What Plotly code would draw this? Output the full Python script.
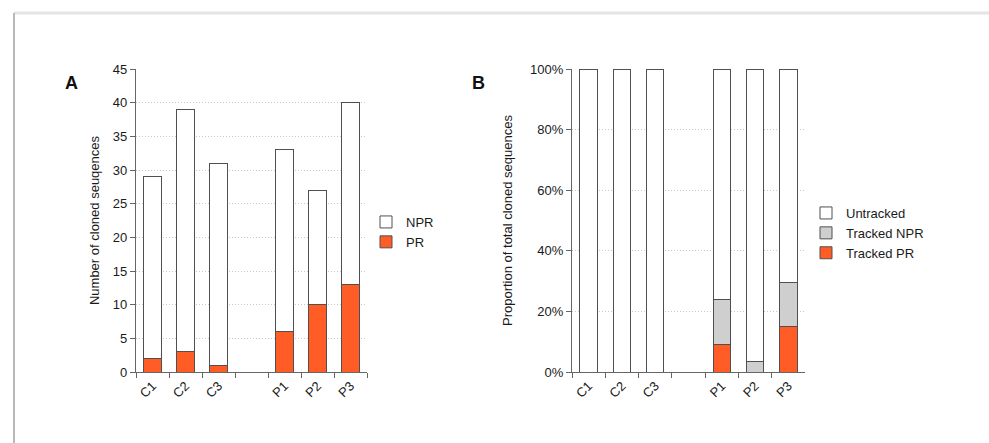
import plotly.graph_objects as go

# ---------------- data ----------------
categories = ["C1", "C2", "C3", " ", "P1", "P2", "P3"]

# Panel A: counts
pr_counts = [2, 3, 1, None, 6, 10, 13]
npr_counts = [27, 36, 30, None, 27, 17, 27]

# Panel B: proportions
tracked_pr = [0.0, 0.0, 0.0, None, 0.09, 0.0, 0.15]
tracked_npr = [0.0, 0.0, 0.0, None, 0.15, 0.036, 0.147]
untracked = [1.0, 1.0, 1.0, None, 0.76, 0.964, 0.703]

y_ticks_a = [0, 5, 10, 15, 20, 25, 30, 35, 40, 45]
y_ticks_b = [0, 0.2, 0.4, 0.6, 0.8, 1.0]

# ---------------- style ----------------
W, H = 989, 443
ORANGE = "#FF5C26"
GRAY_FILL = "#CFCFCF"
OUTLINE = "#505050"
AXIS = "#666666"
FONT = "Liberation Sans, Arial, sans-serif"
TXT = "#1a1a1a"

def px(x):
    return x / W

def py(y):
    return 1 - y / H

fig = go.Figure()

line = dict(color=OUTLINE, width=1)

# Panel A
fig.add_trace(go.Bar(x=categories, y=pr_counts, name="PR", marker=dict(color=ORANGE, line=line),
                     xaxis="x", yaxis="y", legend="legend"))
fig.add_trace(go.Bar(x=categories, y=npr_counts, name="NPR", marker=dict(color="white", line=line),
                     xaxis="x", yaxis="y", legend="legend"))

# Panel B
fig.add_trace(go.Bar(x=categories, y=tracked_pr, name="Tracked PR", marker=dict(color=ORANGE, line=line),
                     xaxis="x2", yaxis="y2", legend="legend2"))
fig.add_trace(go.Bar(x=categories, y=tracked_npr, name="Tracked NPR", marker=dict(color=GRAY_FILL, line=line),
                     xaxis="x2", yaxis="y2", legend="legend2"))
fig.add_trace(go.Bar(x=categories, y=untracked, name="Untracked", marker=dict(color="white", line=line),
                     xaxis="x2", yaxis="y2", legend="legend2"))

y_dom = [py(372), py(69)]

xaxis_common = dict(
    type="category", categoryorder="array", categoryarray=categories,
    tickson="boundaries", ticks="outside", ticklen=5, tickcolor=AXIS,
    showline=True, linecolor=AXIS, linewidth=1.3, tickangle=-45,
    tickfont=dict(size=13, color=TXT, family=FONT), showgrid=False,
    automargin=False, fixedrange=True,
)
yaxis_common = dict(
    ticks="outside", ticklen=5, tickcolor=AXIS, showline=True, linecolor=AXIS, linewidth=1.3,
    showgrid=True, gridcolor="#c9c9c9", griddash="1px,2px", gridwidth=1,
    tickfont=dict(size=13, color=TXT, family=FONT), zeroline=False, domain=y_dom,
    automargin=False, fixedrange=True,
)

legend_common = dict(
    xanchor="left", yanchor="top", traceorder="reversed",
    font=dict(size=13, family=FONT, color=TXT), itemwidth=30,
    bgcolor="rgba(0,0,0,0)", tracegroupgap=0,
)

fig.update_layout(
    width=W, height=H,
    margin=dict(l=0, r=0, t=0, b=0),
    paper_bgcolor="white", plot_bgcolor="white",
    barmode="stack", bargap=0.48,
    font=dict(family=FONT, color=TXT),
    xaxis=dict(xaxis_common, domain=[px(136), px(367)], anchor="y"),
    yaxis=dict(yaxis_common, range=[0, 45], tickvals=y_ticks_a, anchor="x",
               title=dict(text="Number of cloned seuqences", standoff=10,
                          font=dict(size=13, color=TXT, family=FONT))),
    xaxis2=dict(xaxis_common, domain=[px(572), px(805)], anchor="y2"),
    yaxis2=dict(yaxis_common, range=[0, 1], tickvals=y_ticks_b, tickformat=".0%", anchor="x2",
                title=dict(text="Proportion of total cloned sequences", standoff=14,
                           font=dict(size=13, color=TXT, family=FONT))),
    legend=dict(legend_common, x=px(366), y=py(207)),
    legend2=dict(legend_common, x=px(806), y=py(198)),
    showlegend=True,
    annotations=[
        dict(text="<b>A</b>", x=px(63), y=py(71), xref="paper", yref="paper", showarrow=False,
             font=dict(size=18, family=FONT, color="#111")),
        dict(text="<b>B</b>", x=px(478), y=py(71), xref="paper", yref="paper", showarrow=False,
             font=dict(size=18, family=FONT, color="#111")),
    ],
    shapes=[
        dict(type="line", xref="paper", yref="paper", x0=px(14), x1=1, y0=py(13), y1=py(13),
             line=dict(color="#e4e4e4", width=3)),
        dict(type="line", xref="paper", yref="paper", x0=px(14), x1=px(14), y0=0, y1=py(13),
             line=dict(color="#b8b8b8", width=2)),
    ],
)

fig.write_html("out.html", config={"displayModeBar": False},
               post_script="document.body.style.margin='0px';")
